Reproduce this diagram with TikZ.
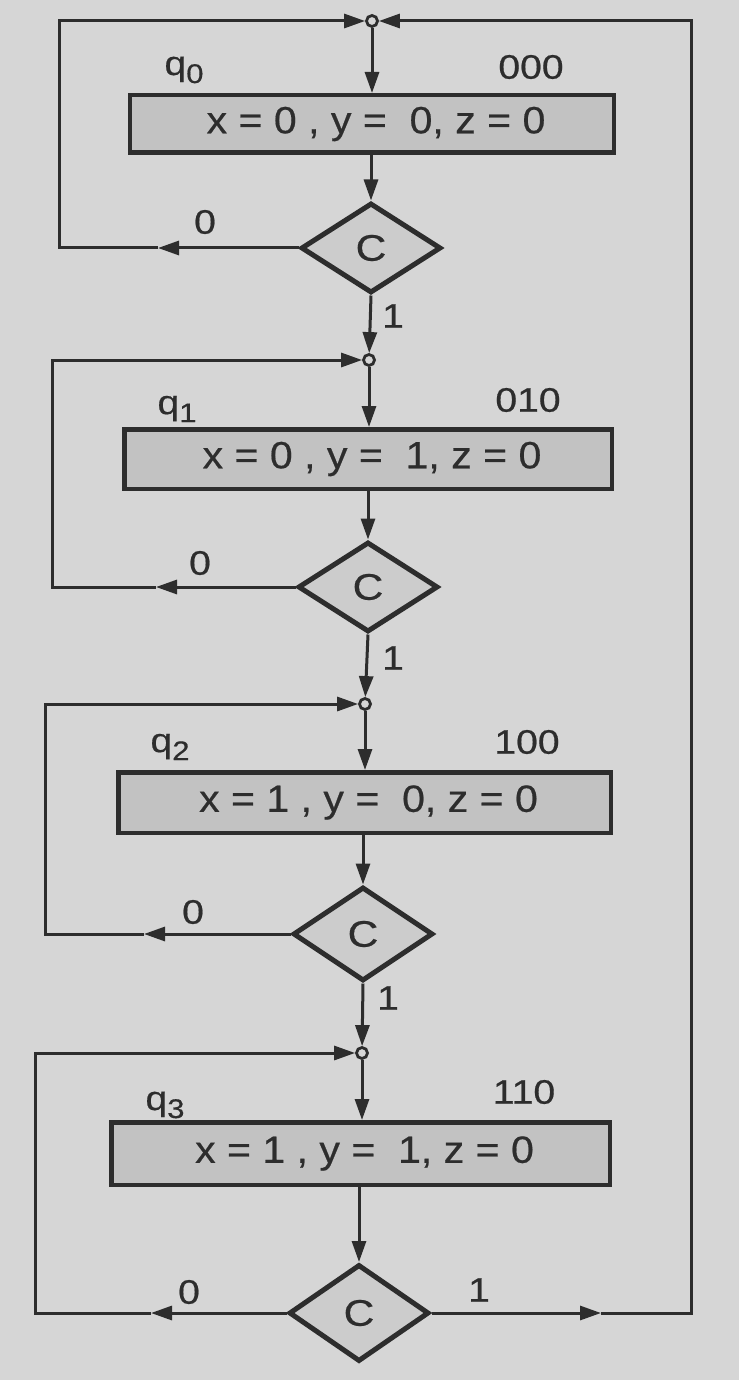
\documentclass[tikz,border=0pt]{standalone}
\usepackage{fontspec}
\setmainfont{Liberation Sans}
\newfontfamily\diafont[FakeStretch=1.15,FakeBold=0.5]{Liberation Sans}
\newfontfamily\boxfont[FakeStretch=1.08,FakeBold=0.5]{Liberation Sans}
\usetikzlibrary{shapes.geometric,arrows.meta}
\definecolor{bg}{RGB}{214,214,214}
\definecolor{ink}{RGB}{45,45,45}
\definecolor{boxfill}{RGB}{194,194,194}
\definecolor{dfill}{RGB}{204,204,204}
\newcommand{\qlab}[1]{q\raisebox{-8pt}{\fontsize{27}{27}\selectfont #1}}
\tikzset{
  conn/.style={draw=ink, line width=3pt},
  arr/.style={conn, -{Triangle[length=21pt,width=14pt]}},
  statebox/.style={draw=ink, line width=4.5pt, fill=boxfill, inner sep=0pt,
    font=\boxfont\fontsize{38}{42}\selectfont, text=ink},
  decision/.style={diamond, draw=ink, line width=5pt, fill=dfill, inner sep=0pt,
    minimum width=140pt, font=\diafont\fontsize{37}{40}\selectfont, text=ink},
  junc/.style={circle, draw=ink, line width=2.8pt, fill=bg, inner sep=0pt, minimum size=11pt},
  lab/.style={font=\diafont\fontsize{34}{38}\selectfont, text=ink, inner sep=0pt}
}
\begin{document}
\begin{tikzpicture}[x=1pt,y=-1pt]
\fill[bg] (0,0) rectangle (739,1380);
\useasboundingbox (0,0) rectangle (739,1380);

% section 1
\node[junc] (j1) at (372,21) {};
\node[statebox, minimum width=484pt, minimum height=57.5pt] (b1) at (372,124) {\hspace{8pt}x = 0 , y =~~0, z = 0};
\node[decision, minimum height=90pt] (d1) at (371,248) {C};
\node[lab] (q0) at (184,70) {\qlab{0}};
\node[lab] (c0) at (531,67) {000};
\node[lab] (z1) at (205,222) {0};
\node[lab] (o1) at (393,316) {1};

% section 2
\node[junc] (j2) at (369,360) {};
\node[statebox, minimum width=487.5pt, minimum height=59.5pt] (b2) at (368,459) {\hspace{8pt}x = 0 , y =~~1, z = 0};
\node[decision, minimum height=90pt] (d2) at (368,587) {C};
\node[lab] (q1) at (177,409) {\qlab{1}};
\node[lab] (c1) at (528,400) {010};
\node[lab] (z2) at (200,563) {0};
\node[lab] (o2) at (393,658) {1};

% section 3
\node[junc] (j3) at (365,704) {};
\node[statebox, minimum width=492.5pt, minimum height=60.5pt] (b3) at (364.5,802.5) {\hspace{8pt}x = 1 , y =~~0, z = 0};
\node[decision, minimum height=94pt] (d3) at (363,934) {C};
\node[lab] (q2) at (170,747) {\qlab{2}};
\node[lab] (c2) at (527,742) {100};
\node[lab] (z3) at (193,912) {0};
\node[lab] (o3) at (388,998) {1};

% section 4
\node[junc] (j4) at (362,1053) {};
\node[statebox, minimum width=498.5pt, minimum height=62.5pt] (b4) at (360.5,1153.5) {\hspace{8pt}x = 1 , y =~~1, z = 0};
\node[decision, minimum height=97pt] (d4) at (359,1313) {C};
\node[lab] (q3) at (165,1105) {\qlab{3}};
\node[lab] (c3) at (524,1092) {110};
\node[lab] (z4) at (189,1292) {0};
\node[lab] (o4) at (479,1290) {1};

% main column
\draw[arr] (j1) -- (j1 |- b1.north);
\draw[arr] (b1.south -| d1) -- (d1.north);
\draw[arr] (d1.south) -- (j2);
\draw[arr] (j2) -- (j2 |- b2.north);
\draw[arr] (b2.south -| d2) -- (d2.north);
\draw[arr] (d2.south) -- (j3);
\draw[arr] (j3) -- (j3 |- b3.north);
\draw[arr] (b3.south -| d3) -- (d3.north);
\draw[arr] (d3.south) -- (j4);
\draw[arr] (j4) -- (j4 |- b4.north);
\draw[arr] (b4.south -| d4) -- (d4.north);

% loops
\coordinate (t1) at (158,248); \coordinate (l1b) at (59,248); \coordinate (l1t) at (59,21);
\draw[arr] (d1.west) -- (t1);
\draw[arr] (t1) -- (l1b) -- (l1t) -- (j1);

\coordinate (t2) at (156,587); \coordinate (l2b) at (52,587); \coordinate (l2t) at (52,360);
\draw[arr] (d2.west) -- (t2);
\draw[arr] (t2) -- (l2b) -- (l2t) -- (j2);

\coordinate (t3) at (144,934); \coordinate (l3b) at (45,934); \coordinate (l3t) at (45,704);
\draw[arr] (d3.west) -- (t3);
\draw[arr] (t3) -- (l3b) -- (l3t) -- (j3);

\coordinate (t4) at (151,1313); \coordinate (l4b) at (35,1313); \coordinate (l4t) at (35,1053);
\draw[arr] (d4.west) -- (t4);
\draw[arr] (t4) -- (l4b) -- (l4t) -- (j4);

% return path
\coordinate (tr) at (601,1313); \coordinate (rb) at (691,1313); \coordinate (rt) at (691,21);
\draw[arr] (d4.east) -- (tr);
\draw[arr] (tr) -- (rb) -- (rt) -- (j1);
\end{tikzpicture}
\end{document}
